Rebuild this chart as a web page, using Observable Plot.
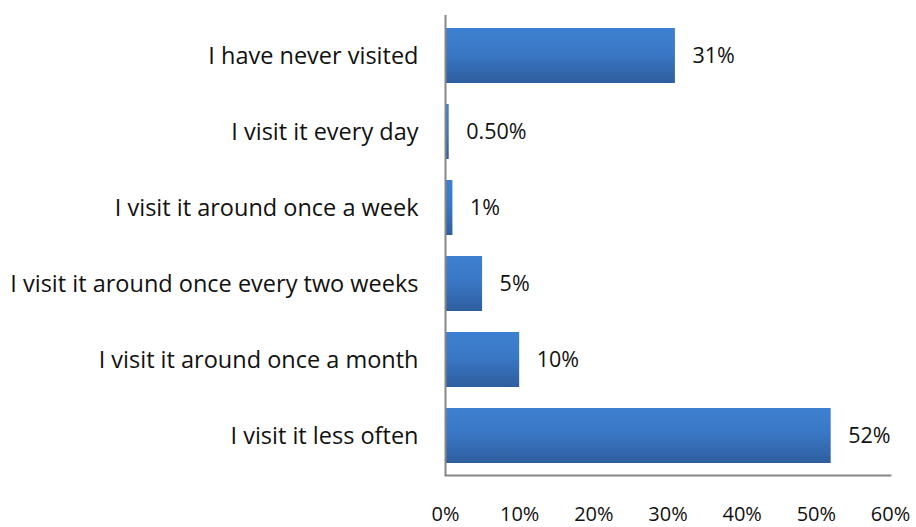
<!DOCTYPE html>
<html>
<head>
<meta charset="utf-8">
<script src="https://cdn.jsdelivr.net/npm/d3@7"></script>
<script src="https://cdn.jsdelivr.net/npm/@observablehq/plot@0.6"></script>
<style>
  html, body { margin: 0; padding: 0; background: #fff; }
  svg { display: block; }
</style>
</head>
<body>
<div id="chart"></div>
<script>
const categories = [
  "I have never visited",
  "I visit it every day",
  "I visit it around once a week",
  "I visit it around once every two weeks",
  "I visit it around once a month",
  "I visit it less often"
];
const values = [0.31, 0.005, 0.01, 0.05, 0.10, 0.52];
const valueLabels = ["31%", "0.50%", "1%", "5%", "10%", "52%"];
const xTicks = [0, 0.1, 0.2, 0.3, 0.4, 0.5, 0.6];

const data = categories.map((c, i) => ({category: c, value: values[i], label: valueLabels[i]}));

const FONT = "'Open Sans', sans-serif";

const chart = Plot.plot({
  width: 916,
  height: 527,
  marginLeft: 445,
  marginRight: 26,
  marginTop: 15,
  marginBottom: 52,
  style: {fontFamily: FONT, fontSize: "20px", color: "#111", background: "#fff"},
  x: {domain: [0, 0.6], ticks: xTicks, tickFormat: d3.format(".0%"), label: null},
  y: {domain: categories, paddingInner: 0.28, paddingOuter: 0.14, label: null},
  marks: [
    Plot.barX(data, {x: "value", y: "category", fill: "url(#barGrad)", style: "filter: drop-shadow(2px 3px 2px rgba(0,0,0,0.3))"}),
    Plot.text(data, {x: "value", y: "category", text: "label", textAnchor: "start", dx: 17, fontSize: 21.5, fill: "#111"}),
    Plot.axisX({ticks: xTicks, tickFormat: d3.format(".0%"), tickSize: 0, tickPadding: 31, fontSize: 20, label: null}),
    Plot.axisY({tickSize: 0, tickPadding: 27, fontSize: 23.5, label: null}),
    Plot.ruleX([0], {stroke: "#868686", strokeWidth: 2}),
    Plot.frame({anchor: "bottom", stroke: "#868686", strokeWidth: 2})
  ]
});

const ns = "http://www.w3.org/2000/svg";
const defs = document.createElementNS(ns, "defs");
const grad = document.createElementNS(ns, "linearGradient");
grad.setAttribute("id", "barGrad");
grad.setAttribute("x1", "0"); grad.setAttribute("y1", "0");
grad.setAttribute("x2", "0"); grad.setAttribute("y2", "1");
[["0%", "#3e80d0"], ["45%", "#3a78c6"], ["100%", "#2e5e9e"]].forEach(([o, c]) => {
  const s = document.createElementNS(ns, "stop");
  s.setAttribute("offset", o);
  s.setAttribute("stop-color", c);
  grad.appendChild(s);
});
defs.appendChild(grad);
chart.insertBefore(defs, chart.firstChild);

document.getElementById("chart").appendChild(chart);
</script>
</body>
</html>
